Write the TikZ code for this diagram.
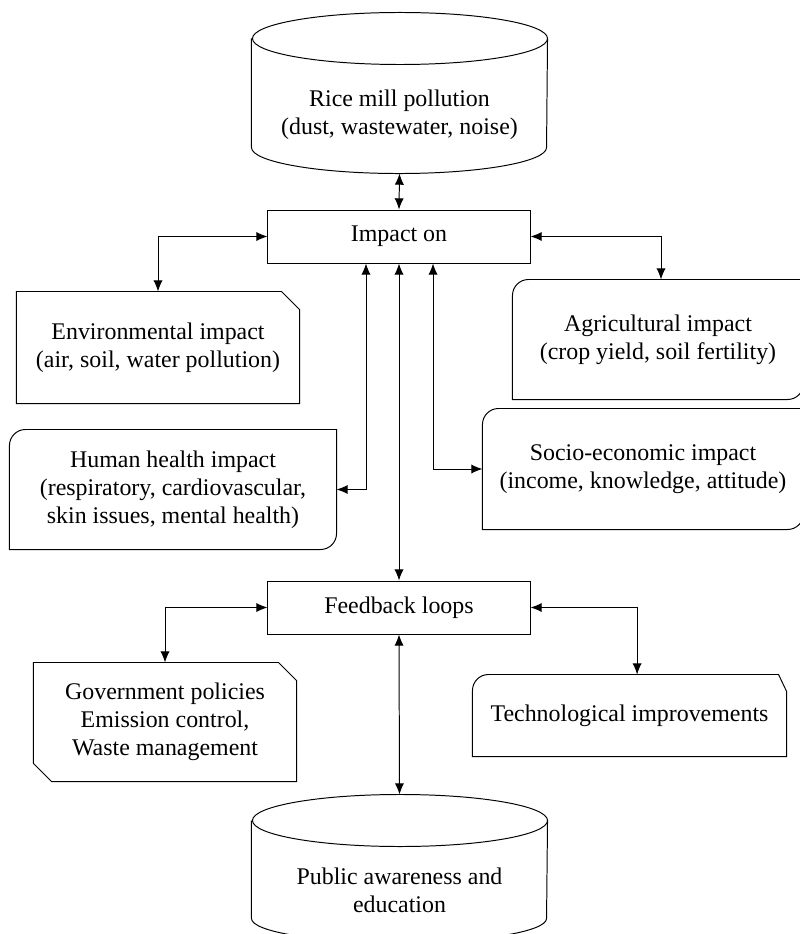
\documentclass[tikz,border=0pt]{standalone}
\usepackage{fontspec}
\setmainfont{Liberation Serif}
\usetikzlibrary{arrows.meta}

\begin{document}
\begin{tikzpicture}[x=0.025cm, y=-0.025cm, line width=0.7pt,
	every node/.style={font=\fontsize{17}{20}\selectfont, align=center, inner sep=0pt},
	arr/.style={{Latex[length=2.8mm,width=2.3mm]}-{Latex[length=2.8mm,width=2.3mm]}},
	plainbox/.style={draw, minimum width=6.55cm, minimum height=1.325cm}]
	\useasboundingbox (0,0) rectangle (800,934);
	\def\cut{0.45cm}
	\def\rnd{0.4cm}
	\def\ry{0.65cm}
	
	%Top cylinder
	\node[minimum width=7.375cm, minimum height=4cm] (rice) at (399.5,93) {};
	\node (ricetxt) at (399.5,115) {Rice mill pollution\\(dust, wastewater, noise)};
	\draw ([yshift=-\ry]rice.north west) -- ([yshift=\ry]rice.south west)
		arc[start angle=180, end angle=360, x radius=3.6875cm, y radius=\ry]
		-- ([yshift=-\ry]rice.north east)
		arc[start angle=0, end angle=360, x radius=3.6875cm, y radius=\ry];
	
	%Impact on
	\node[plainbox] (impact) at (399,236.5) {Impact on};
	
	%Environmental
	\node[minimum width=7.05cm, minimum height=2.775cm] (env) at (158,347.5) {Environmental impact\\(air, soil, water pollution)};
	\draw (env.west) -- (env.north west) -- ([xshift=-\cut]env.north east) -- ([yshift=-\cut]env.north east)
		-- (env.south east) -- (env.south west) -- cycle;
	
	%Agricultural
	\node[minimum width=7.25cm, minimum height=2.975cm] (agri) at (658,339.5) {Agricultural impact\\(crop yield, soil fertility)};
	\draw (agri.west) [rounded corners=\rnd] -- (agri.north west) [sharp corners] -- (agri.north east)
		[rounded corners=\rnd] -- (agri.south east) [sharp corners] -- (agri.south west) -- cycle;
	
	%Human health
	\node[minimum width=8.15cm, minimum height=2.975cm] (health) at (173,489.5) {Human health impact\\(respiratory, cardiovascular,\\skin issues, mental health)};
	\draw (health.west) [rounded corners=\rnd] -- (health.north west) [sharp corners] -- (health.north east)
		[rounded corners=\rnd] -- (health.south east) [sharp corners] -- (health.south west) -- cycle;
	
	%Socio-economic
	\node[minimum width=8cm, minimum height=3cm] (socio) at (643,469) {Socio-economic impact\\(income, knowledge, attitude)};
	\draw (socio.west) [rounded corners=\rnd] -- (socio.north west) [sharp corners] -- (socio.north east)
		[rounded corners=\rnd] -- (socio.south east) [sharp corners] -- (socio.south west) -- cycle;
	
	%Feedback loops
	\node[plainbox] (feedback) at (399,607.5) {Feedback loops};
	
	%Government
	\node[minimum width=6.55cm, minimum height=2.95cm] (gov) at (165,722) {Government policies\\Emission control,\\Waste management};
	\draw (gov.north west) -- ([xshift=-\cut]gov.north east) -- ([yshift=-\cut]gov.north east) -- (gov.south east)
		-- ([xshift=\cut]gov.south west) -- ([yshift=\cut]gov.south west) -- cycle;
	
	%Technological
	\node[minimum width=7.825cm, minimum height=2.025cm] (tech) at (629.5,715.5) {Technological improvements};
	\draw (tech.west) [rounded corners=\rnd] -- (tech.north west) [sharp corners] -- ([xshift=-0.2cm]tech.north east)
		-- ([yshift=-0.42cm]tech.north east) -- (tech.south east) -- (tech.south west) -- cycle;
	
	%Bottom cylinder
	\node[minimum width=7.375cm, minimum height=3.675cm] (public) at (399.5,868.5) {};
	\node (publictxt) at (399.5,890) {Public awareness and\\education};
	\draw ([yshift=-\ry]public.north west) -- ([yshift=0.6cm]public.south west)
		arc[start angle=180, end angle=360, x radius=3.6875cm, y radius=0.6cm]
		-- ([yshift=-\ry]public.north east)
		arc[start angle=0, end angle=360, x radius=3.6875cm, y radius=\ry];
	
	%Connectors
	\draw[arr] (rice.south) -- (impact.north);
	\draw[arr] (impact.west) -| (env.north);
	\draw[arr] (impact.east) -| ([xshift=0.075cm]agri.north);
	\draw[arr] ([xshift=-0.825cm]impact.south) |- (health.east);
	\draw[arr] (impact.south) -- (feedback.north);
	\draw[arr] ([xshift=0.85cm]impact.south) |- (socio.west);
	\draw[arr] (feedback.west) -| (gov.north);
	\draw[arr] (feedback.east) -| ([xshift=0.19cm]tech.north);
	\draw[arr] (feedback.south) -- (public.north);
\end{tikzpicture}
\end{document}
